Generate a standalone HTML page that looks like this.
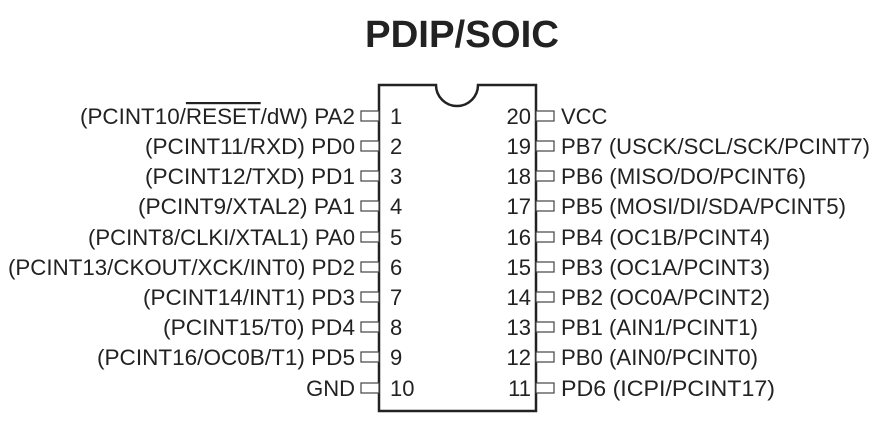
<!DOCTYPE html>
<html><head><style>html,body{margin:0;padding:0;background:#fff;}svg{display:block}</style></head>
<body>
<svg width="881" height="427" viewBox="0 0 881 427" xmlns="http://www.w3.org/2000/svg" font-family="Liberation Sans, Arial, sans-serif" fill="#222">
<text x="462" y="47" font-size="38" font-weight="bold" text-anchor="middle" textLength="194" lengthAdjust="spacingAndGlyphs">PDIP/SOIC</text>
<path d="M379,85 H436 A21,21 0 0 0 478,85 H536 V411 H379 Z" fill="#fff" stroke="#222" stroke-width="2.5"/>
<g stroke="#444" stroke-width="1.2" fill="#fff">
<rect x="361" y="111" width="18" height="10"/><rect x="361" y="141" width="18" height="10"/><rect x="361" y="171" width="18" height="10"/><rect x="361" y="201" width="18" height="10"/><rect x="361" y="232" width="18" height="10"/><rect x="361" y="262" width="18" height="10"/><rect x="361" y="292" width="18" height="10"/><rect x="361" y="322" width="18" height="10"/><rect x="361" y="352" width="18" height="10"/><rect x="361" y="383" width="18" height="10"/>
<rect x="536" y="111" width="18" height="10"/><rect x="536" y="141" width="18" height="10"/><rect x="536" y="171" width="18" height="10"/><rect x="536" y="201" width="18" height="10"/><rect x="536" y="232" width="18" height="10"/><rect x="536" y="262" width="18" height="10"/><rect x="536" y="292" width="18" height="10"/><rect x="536" y="322" width="18" height="10"/><rect x="536" y="352" width="18" height="10"/><rect x="536" y="383" width="18" height="10"/>
</g>
<g font-size="22" lengthAdjust="spacingAndGlyphs">
<text x="80" y="124" textLength="275" lengthAdjust="spacingAndGlyphs">(PCINT10/<tspan text-decoration="overline">RESET</tspan>/dW) PA2</text>
<text x="145" y="154" textLength="210" lengthAdjust="spacingAndGlyphs">(PCINT11/RXD) PD0</text>
<text x="145" y="184" textLength="210" lengthAdjust="spacingAndGlyphs">(PCINT12/TXD) PD1</text>
<text x="138" y="214" textLength="217" lengthAdjust="spacingAndGlyphs">(PCINT9/XTAL2) PA1</text>
<text x="88" y="245" textLength="267" lengthAdjust="spacingAndGlyphs">(PCINT8/CLKI/XTAL1) PA0</text>
<text x="8" y="275" textLength="347" lengthAdjust="spacingAndGlyphs">(PCINT13/CKOUT/XCK/INT0) PD2</text>
<text x="143" y="305" textLength="212" lengthAdjust="spacingAndGlyphs">(PCINT14/INT1) PD3</text>
<text x="163" y="335" textLength="192" lengthAdjust="spacingAndGlyphs">(PCINT15/T0) PD4</text>
<text x="97" y="365" textLength="258" lengthAdjust="spacingAndGlyphs">(PCINT16/OC0B/T1) PD5</text>
<text x="355" y="396" text-anchor="end">GND</text>
</g>
<g font-size="22" text-anchor="end">
<text x="531" y="124">20</text><text x="531" y="154">19</text><text x="531" y="184">18</text><text x="531" y="214">17</text><text x="531" y="245">16</text><text x="531" y="275">15</text><text x="531" y="305">14</text><text x="531" y="335">13</text><text x="531" y="365">12</text><text x="531" y="396">11</text>
</g>
<g font-size="22">
<text x="390" y="124">1</text><text x="390" y="154">2</text><text x="390" y="184">3</text><text x="390" y="214">4</text><text x="390" y="245">5</text><text x="390" y="275">6</text><text x="390" y="305">7</text><text x="390" y="335">8</text><text x="390" y="365">9</text><text x="390" y="396">10</text>
<text x="561" y="124">VCC</text>
<text x="561" y="154" textLength="309" lengthAdjust="spacingAndGlyphs">PB7 (USCK/SCL/SCK/PCINT7)</text>
<text x="561" y="184" textLength="245" lengthAdjust="spacingAndGlyphs">PB6 (MISO/DO/PCINT6)</text>
<text x="561" y="214" textLength="285" lengthAdjust="spacingAndGlyphs">PB5 (MOSI/DI/SDA/PCINT5)</text>
<text x="561" y="245" textLength="209" lengthAdjust="spacingAndGlyphs">PB4 (OC1B/PCINT4)</text>
<text x="561" y="275" textLength="209" lengthAdjust="spacingAndGlyphs">PB3 (OC1A/PCINT3)</text>
<text x="561" y="305" textLength="209" lengthAdjust="spacingAndGlyphs">PB2 (OC0A/PCINT2)</text>
<text x="561" y="335" textLength="197" lengthAdjust="spacingAndGlyphs">PB1 (AIN1/PCINT1)</text>
<text x="561" y="365" textLength="197" lengthAdjust="spacingAndGlyphs">PB0 (AIN0/PCINT0)</text>
<text x="561" y="396" textLength="214" lengthAdjust="spacingAndGlyphs">PD6 (ICPI/PCINT17)</text>
</g>
</svg>
</body></html>
